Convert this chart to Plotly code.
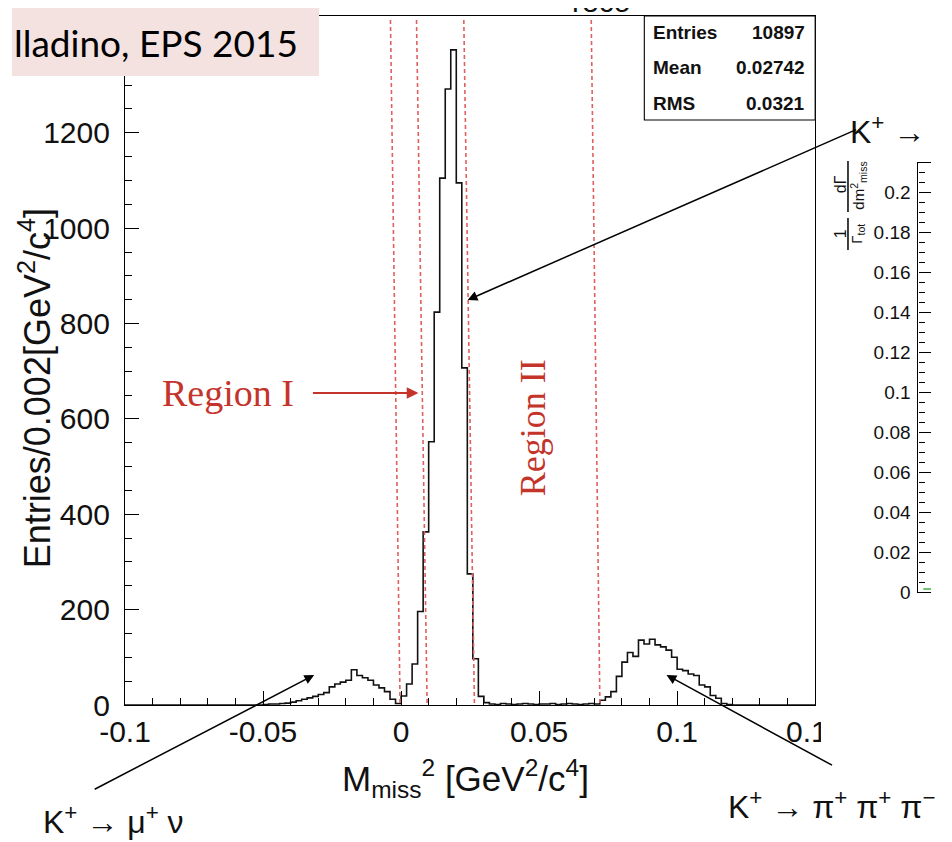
import plotly.graph_objects as go

# ---------------- data ----------------
bin_lo = -0.1
bin_width = 0.002
counts_left_tail = [0] * 25                      # -0.100 .. -0.050
counts_mu_nu = [1, 2, 2, 3, 4, 6, 9, 12, 15, 18, 22, 26, 38, 44, 48, 52,
                74, 62, 57, 52, 42, 36, 28, 12, 3]   # -0.050 .. 0.000
counts_pi0_peak = [19, 44, 86, 196, 363, 552, 824, 1105, 1292, 1374,
                   1095, 707, 275, 97, 18, 5]         # 0.000 .. 0.032
counts_gap = [2, 1, 3, 2, 1, 2, 3, 2, 1, 2, 2, 3, 1, 2, 3, 2, 1, 2, 3]  # 0.032 .. 0.070
counts_3pi = [2, 10, 17, 28, 60, 90, 110, 102, 136, 128, 138, 126, 122,
              115, 100, 75, 72, 65, 62, 42, 38, 20, 14, 3, 1]  # 0.070 .. 0.120
counts_right_tail = [0] * 15                     # 0.120 .. 0.150
counts = (counts_left_tail + counts_mu_nu + counts_pi0_peak + counts_gap
          + counts_3pi + counts_right_tail)

xtick_vals = [-0.1, -0.05, 0, 0.05, 0.1, 0.15]
xtick_text = ["-0.1", "-0.05", "0", "0.05", "0.1", "0.15"]
ytick_vals = [0, 200, 400, 600, 800, 1000, 1200]
ytick_text = ["0", "200", "400", "600", "800", "1000", "1200"]

stats_labels = ["Entries", "Mean", "RMS"]
stats_values = ["10897", "0.02742", "0.0321"]

rhs_tick_vals = [0, 0.02, 0.04, 0.06, 0.08, 0.1, 0.12, 0.14, 0.16, 0.18, 0.2]
rhs_tick_text = ["0", "0.02", "0.04", "0.06", "0.08", "0.1", "0.12",
                 "0.14", "0.16", "0.18", "0.2"]
rhs_curve_x = [0.05, 0.13]
rhs_curve_y = [0.0015, 0.0015]

# ---------------- layout helpers (pixel -> paper) ----------------
L, T, R, B = 117, 8, 952, 697
W, H = R - L, B - T


def X(p):
    return (p - L) / W


def Y(p):
    return (B - p) / H


edges = [bin_lo + bin_width * k for k in range(len(counts) + 1)]
yvals = counts + [counts[-1]]

RED = "#C4342B"
DASHRED = "#E06060"
SANS = "Liberation Sans"
SERIF = "Liberation Serif"

fig = go.Figure()
fig.add_trace(go.Scatter(x=edges, y=yvals, mode="lines", line_shape="hv",
                         line=dict(color="#111111", width=1.6),
                         hoverinfo="skip", showlegend=False))
fig.add_trace(go.Scatter(x=rhs_curve_x, y=rhs_curve_y, mode="lines",
                         line=dict(color="#3FAF3F", width=1.5, dash="dash"),
                         xaxis="x2", yaxis="y2", showlegend=False, hoverinfo="skip"))

fig.update_layout(
    width=952, height=842,
    margin=dict(l=L, r=0, t=T, b=842 - B, pad=0),
    paper_bgcolor="white", plot_bgcolor="white",
    showlegend=False,
    xaxis=dict(domain=[0, (832 - L) / W], range=[-0.1, 0.15],
               tickmode="array", tickvals=xtick_vals, ticktext=xtick_text,
               ticks="inside", ticklen=14, tickwidth=1.2, tickcolor="black",
               minor=dict(tickmode="linear", tick0=-0.1, dtick=0.01, ticks="inside",
                          ticklen=7, tickwidth=1.2, tickcolor="black", showgrid=False),
               showline=True, linecolor="black", linewidth=1.2, mirror=True,
               showgrid=False, zeroline=False,
               tickfont=dict(family=SANS, size=30, color="#111")),
    yaxis=dict(range=[0, 1445],
               tickmode="array", tickvals=ytick_vals, ticktext=ytick_text,
               ticks="inside", ticklen=14, tickwidth=1.2, tickcolor="black",
               minor=dict(tickmode="linear", tick0=0, dtick=50, ticks="inside",
                          ticklen=7, tickwidth=1.2, tickcolor="black", showgrid=False),
               showline=True, linecolor="black", linewidth=1.2, mirror=True,
               showgrid=False, zeroline=False, ticklabelstandoff=8,
               tickfont=dict(family=SANS, size=30, color="#111")),
    xaxis2=dict(domain=[(939 - L) / W, 1], range=[0, 0.13], anchor="y2",
                showticklabels=False, ticks="", showline=True, linecolor="black",
                linewidth=1.2, mirror=True, showgrid=False, zeroline=False),
    yaxis2=dict(domain=[Y(584), Y(155)], range=[0, 0.2146], anchor="x2",
                tickmode="array", tickvals=rhs_tick_vals, ticktext=rhs_tick_text,
                ticks="inside", ticklen=12, tickwidth=1.2, tickcolor="black",
                minor=dict(tickmode="linear", tick0=0, dtick=0.005, ticks="inside",
                           ticklen=6, tickwidth=1, tickcolor="black"),
                showline=True, linecolor="black", linewidth=1.2,
                showgrid=False, zeroline=False, ticklabelstandoff=3,
                tickfont=dict(family=SANS, size=19, color="#111")),
)

shapes = []
# red dashed region boundaries (hand-drawn, slightly tilted)
for (xt, xb) in [(392, 402), (419, 430), (468, 479), (600, 609)]:
    shapes.append(dict(type="line", xref="paper", yref="paper",
                       x0=X(xt), y0=Y(12), x1=X(xb), y1=Y(697),
                       line=dict(color=DASHRED, width=1.6, dash="4px,3px"),
                       layer="above"))
# stats box
shapes.append(dict(type="rect", xref="paper", yref="paper",
                   x0=X(655), y0=Y(112), x1=X(832), y1=Y(8),
                   fillcolor="white", line=dict(color="black", width=1.1),
                   layer="above"))
# pink citation box
shapes.append(dict(type="rect", xref="paper", yref="paper",
                   x0=X(0), y0=Y(68), x1=X(318), y1=Y(-2),
                   fillcolor="#F4E2E1", line=dict(width=0), layer="above"))
# overlay of the second picture hiding part of the last tick label
shapes.append(dict(type="rect", xref="paper", yref="paper",
                   x0=X(838), y0=Y(745), x1=X(953), y1=Y(700),
                   fillcolor="white", line=dict(width=0), layer="above"))
# fraction bars of right-plot axis title
shapes.append(dict(type="line", xref="paper", yref="paper",
                   x0=X(866), y0=Y(153), x1=X(866), y1=Y(204),
                   line=dict(color="black", width=1.5), layer="above"))
shapes.append(dict(type="line", xref="paper", yref="paper",
                   x0=X(866), y0=Y(210), x1=X(866), y1=Y(242),
                   line=dict(color="black", width=1.5), layer="above"))
fig.update_layout(shapes=shapes)


def txt(x, y, text, size, family=SANS, color="#111", xanchor="center",
        yanchor="middle", angle=0):
    fig.add_annotation(x=X(x), y=Y(y), xref="paper", yref="paper", text=text,
                       showarrow=False, xanchor=xanchor, yanchor=yanchor,
                       textangle=angle, font=dict(family=family, size=size, color=color))


def arrow(tail, tip, color="black", width=1.5):
    fig.add_annotation(x=X(tip[0]), y=Y(tip[1]), xref="paper", yref="paper",
                       ax=tail[0] - tip[0], ay=tail[1] - tip[1], text="",
                       showarrow=True, arrowhead=2, arrowsize=1.3,
                       arrowwidth=width, arrowcolor=color, standoff=0)


# citation + title fragment
txt(0, 35, "lladino, EPS 2015", 37, family="Lato", color="black", xanchor="left")
txt(578, 12, "reco", 30, xanchor="left", yanchor="bottom")

# stats box text
for i, (lab, val) in enumerate(zip(stats_labels, stats_values)):
    yy = 25 + 35 * i
    txt(662, yy, "<b>" + lab + "</b>", 19, xanchor="left")
    txt(824, yy, "<b>" + val + "</b>", 19, xanchor="right")

# axis titles
txt(24, 380, "Entries/0.002[GeV<sup>2</sup>/c<sup>4</sup>]", 36, angle=-90)
txt(470, 770, "M<sub>miss</sub><sup>2</sup> [GeV<sup>2</sup>/c<sup>4</sup>]", 35)

# region labels
txt(224, 385, "Region I", 38, family=SERIF, color=RED)
txt(540, 420, "Region II", 36, family=SERIF, color=RED, angle=-90)
arrow((314, 385), (421, 385), color=RED, width=1.8)

# decay labels + arrows
txt(30, 812, "K<sup>+</sup> → μ<sup>+</sup> ν", 32, xanchor="left")
txt(740, 797, "K<sup>+</sup> → π<sup>+</sup> π<sup>+</sup> π<sup>−</sup>", 32, xanchor="left")
txt(866, 122, "K<sup>+</sup> →", 32, xanchor="left")
arrow((862, 121), (472, 292))
arrow((92, 782), (313, 667))
arrow((845, 758), (678, 667))

# right-plot axis title pieces
txt(858, 176, "dΓ", 16, angle=-90)
txt(876, 178, "dm<sup>2</sup><sub>miss</sub>", 15, angle=-90)
txt(858, 226, "1", 16, angle=-90)
txt(875, 226, "Γ<sub>tot</sub>", 15, angle=-90)

fig.write_html("out.html")
